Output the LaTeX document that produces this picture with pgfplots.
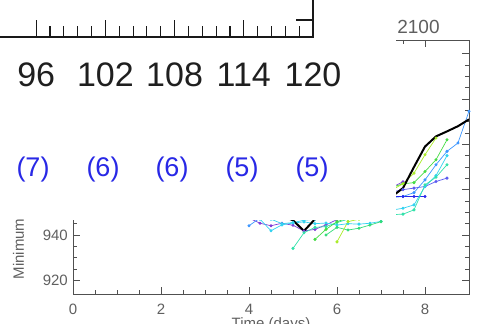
\documentclass[border=0pt]{standalone}
\usepackage{fontspec}
\setmainfont{Liberation Sans}
\usepackage{pgfplots}
\pgfplotsset{compat=1.18}
\definecolor{axgray}{RGB}{80,80,80}
\definecolor{lblgray}{RGB}{95,95,95}
\definecolor{blueT}{RGB}{40,40,230}
\definecolor{cPurple}{RGB}{125,60,215}
\definecolor{cBlue}{RGB}{40,40,235}
\definecolor{cViolet}{RGB}{90,90,240}
\definecolor{cLBlue}{RGB}{60,150,255}
\definecolor{cCyan}{RGB}{50,210,240}
\definecolor{cTeal}{RGB}{50,225,170}
\definecolor{cSea}{RGB}{50,220,120}
\definecolor{cGreen}{RGB}{70,220,70}
\definecolor{cYG}{RGB}{170,235,40}
\begin{document}
\begin{tikzpicture}[x=1pt,y=1pt]
\useasboundingbox (0,0) rectangle (491,324);
\begin{scope}
\clip (0,0) rectangle (491,324);
\begin{axis}[at={(73pt,30pt)}, anchor=south west, width=396pt, height=254pt, scale only axis,
  xmin=0, xmax=9, ymin=914, ymax=1026,
  xtick={0,2,4,6,8}, minor x tick num=3,
  ytick={920,940,960,980,1000,1020}, minor y tick num=3,
  axis line style={draw=axgray, line width=0.8pt},
  tick style={draw=axgray, line width=0.8pt},
  major tick length=7pt, minor tick length=4pt, tick align=inside,
  ticklabel style={font=\fontsize{15}{15}\selectfont, text=lblgray, inner sep=0pt},
  xticklabel style={anchor=north, yshift=-10pt},
  yticklabel style={anchor=east, xshift=-5pt},
  /pgf/number format/assume math mode=true,
  every axis plot/.append style={line width=0.7pt, mark=*, mark size=1.2pt, mark options={solid}}]
% purple
\addplot[color=cPurple] coordinates {(4.0,947.5)(4.25,945.2)(4.5,944.1)(4.75,945.2)(5.0,944.3)(5.25,941.8)(5.5,942.5)(5.75,944.5)(6.0,946.8)(6.5,950)(7.0,956)(7.25,961)(7.5,963.5)};
% light blue
\addplot[color=cLBlue] coordinates {(4.0,944.1)(4.25,947.5)(4.5,948.5)(5.0,950)(5.5,951)(6.0,952)(6.5,953)(7.0,955)(7.25,956.5)(7.5,957)(7.75,958.7)(8.0,964.3)(8.25,971)(8.5,976.9)(8.75,980.6)(9.0,994.6)};
% blue
\addplot[color=cBlue] coordinates {(6.5,948)(7.0,953)(7.25,957)(7.5,957)(7.75,957)(8.0,957)};
% violet-blue
\addplot[color=cViolet] coordinates {(6.5,949)(7.0,955)(7.25,959)(7.5,960)(7.75,960.7)(8.0,961.4)(8.25,963.6)(8.5,965.1)};
% cyan (lower)
\addplot[color=cCyan] coordinates {(4.25,947)(4.5,941.9)(4.75,944.5)(5.0,945.3)(5.25,945.8)(5.5,945)(5.75,945.3)(6.0,944.4)(6.25,945)(6.5,944.8)(6.75,945.2)(7.0,946)};
% cyan (right)
\addplot[color=cCyan] coordinates {(4.5,947)(4.75,945)(5.0,945.5)(5.25,946.5)(5.5,947)(6.0,948)(7.0,950)(7.25,951)(7.5,951.8)(7.75,953.3)(8.0,961.4)(8.25,966.2)(8.5,975)};
% teal
\addplot[color=cTeal] coordinates {(5.0,934.1)(5.25,941)(5.5,943.4)(5.75,943.7)(6.0,945.5)(6.25,947)(6.75,948)(7.25,949)(7.5,949.2)(7.75,951.1)(8.0,962.1)(8.25,965.5)(8.5,971)};
% sea green row
\addplot[color=cSea] coordinates {(5.75,940)(6.0,943.4)(6.25,942.2)(6.5,943)(6.75,944.4)(7.0,945.9)};
% green
\addplot[color=cGreen] coordinates {(5.5,938.1)(5.75,942.5)(6.0,945.9)(6.25,947.5)(6.75,950)(7.25,961)(7.5,962.6)(7.75,963.1)(8.0,968)(8.25,973.2)(8.5,982)};
% yellow-green
\addplot[color=cYG] coordinates {(6.0,937)(6.25,945.9)(6.5,947)(7.0,955)(7.25,959.9)(7.5,962.6)(7.75,967.3)(8.0,975.4)(8.25,982.8)};
% observed (black)
\addplot[color=black, line width=2pt, mark=none] coordinates {(4.5,952)(4.75,948.5)(5.0,946.5)(5.25,941.8)(5.5,947)(5.75,949)(6.0,950)(6.25,951)(6.5,952)(6.75,953)(7.0,954.5)(7.25,957)(7.5,960.7)(7.75,970)(8.0,979)(8.25,983.5)(8.5,985.7)(8.75,988)(9.0,991)};
\end{axis}
\fill[white] (0,104) rectangle (396,324);
\begin{axis}[at={(-33pt,287pt)}, anchor=south west, width=346pt, height=100pt, scale only axis,
  xmin=90, xmax=120, ymin=0, ymax=10,
  xtick={96,102,108,114,120}, xticklabels={96,102,108,114,120}, minor x tick num=4,
  xtick pos=bottom, ytick={1.7}, yticklabels={}, ytick pos=right,
  axis line style={draw=black!90, line width=1.1pt},
  tick style={draw=black!90, line width=1.1pt},
  major tick length=17pt, minor tick length=11pt, tick align=inside,
  xticklabel style={font=\fontsize{34}{34}\selectfont, text=black!88, inner sep=0pt, anchor=north, yshift=-25.5pt}]
\end{axis}
\end{scope}
\begin{scope}[every node/.style={text=blueT, font=\fontsize{27}{27}\selectfont, inner sep=0pt}]
\node at (33,154) {(7)};
\node at (103,154) {(6)};
\node at (172,154) {(6)};
\node at (242,154) {(5)};
\node at (312,154) {(5)};
\end{scope}
\node[text=lblgray, font=\fontsize{19}{19}\selectfont, inner sep=0pt] at (418.5,297.5) {2100};
\node[text=lblgray, font=\fontsize{15}{15}\selectfont, inner sep=0pt, rotate=90] at (18.5,75) {Minimum};
\node[text=lblgray, font=\fontsize{15}{15}\selectfont, inner sep=0pt, anchor=north] at (271,7) {Time (days)};
\end{tikzpicture}
\end{document}
